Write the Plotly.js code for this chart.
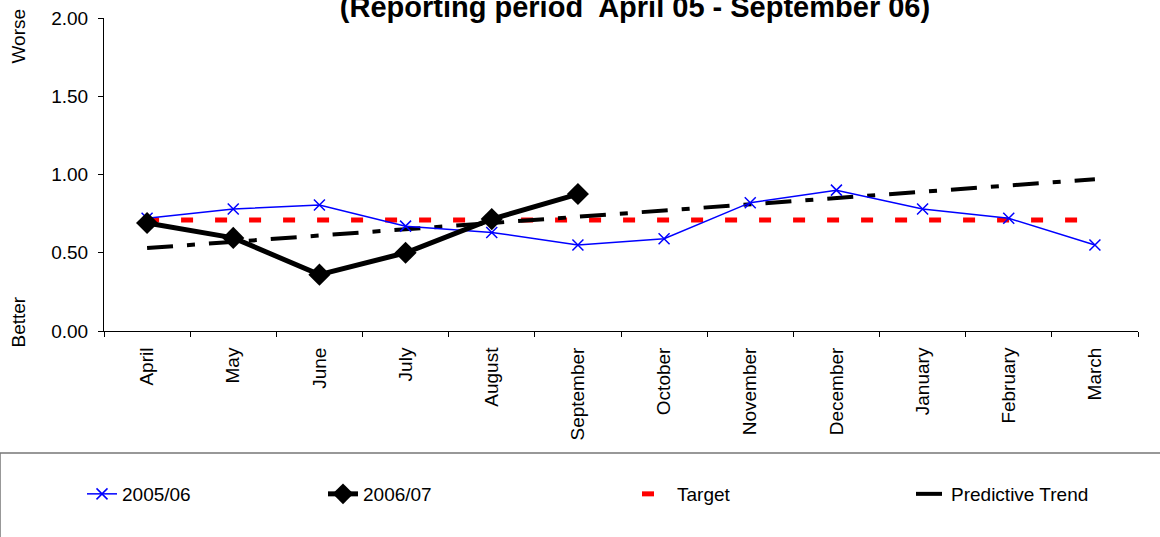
<!DOCTYPE html>
<html><head><meta charset="utf-8">
<script src="https://cdn.plot.ly/plotly-3.0.1.min.js"></script>
<style>body{margin:0;background:#fff}#chart{width:1160px;height:537px}</style>
</head><body><div id="chart"></div>
<script>
const months = ["April","May","June","July","August","September","October","November","December","January","February","March"];
const series0506 = [0.72,0.78,0.805,0.67,0.63,0.55,0.59,0.82,0.90,0.78,0.72,0.55];
const series0607 = [0.69,0.595,0.36,0.50,0.715,0.875];
const target = [0.71,0.71,0.71,0.71,0.71,0.71,0.71,0.71,0.71,0.71,0.71,0.71];
const trend = [0.53,0.57,0.61,0.65,0.69,0.73,0.77,0.81,0.85,0.89,0.93,0.97];
const yTicks = [0,0.5,1,1.5,2];

const F = "Liberation Sans, Arial, sans-serif";
const traces = [
  {x: months, y: target, name: "Target", type: "scatter", mode: "lines", legend: "legend3",
   line: {color: "#FF0000", width: 5, dash: "12px,22px"}},
  {x: months, y: trend, name: "Predictive Trend", type: "scatter", mode: "lines", legend: "legend4",
   line: {color: "#000000", width: 4, dash: "26px,14px,8px,14px"}},
  {x: months, y: series0506, name: "2005/06", type: "scatter", mode: "lines+markers", legend: "legend",
   line: {color: "#0000FF", width: 1.5},
   marker: {symbol: "x-thin-open", size: 11, color: "#0000FF", line: {color: "#0000FF", width: 1.5}}},
  {x: months.slice(0, series0607.length), y: series0607, name: "2006/07", type: "scatter", mode: "lines+markers", legend: "legend2",
   line: {color: "#000000", width: 5},
   marker: {symbol: "diamond", size: 17, color: "#000000"}}
];

function leg(px) {
  return {orientation: "h", xref: "container", yref: "container", x: px/1160, y: 1 - 475/537,
          xanchor: "left", yanchor: "top", bgcolor: "rgba(0,0,0,0)", borderwidth: 0,
          font: {family: F, size: 19}};
}

const layout = {
  width: 1160, height: 537,
  margin: {l: 104, r: 22, t: 18, b: 206},
  paper_bgcolor: "#fff", plot_bgcolor: "#fff",
  font: {family: F, size: 19, color: "#000"},
  title: {text: "<b>(Reporting period  April 05 - September 06)</b>",
          font: {family: F, size: 29, color: "#000"},
          x: 635/1160, xanchor: "center", y: 1 - 7/537, yanchor: "middle", yref: "container"},
  xaxis: {type: "category", range: [-0.5, 11.5], tickangle: -90, showline: true, linecolor: "#000", linewidth: 1,
          ticks: "outside", tickson: "boundaries", ticklen: 5, tickcolor: "#000", ticklabelstandoff: 8,
          showgrid: false, zeroline: false, tickfont: {family: F, size: 19}},
  yaxis: {range: [0, 2], tickvals: yTicks, tickformat: ".2f", showline: true, linecolor: "#000",
          linewidth: 1, ticks: "outside", ticklen: 5, tickcolor: "#000", showgrid: false,
          ticklabelstandoff: 6, zeroline: false, tickfont: {family: F, size: 19}},
  showlegend: true,
  legend: leg(82), legend2: leg(323), legend3: leg(637), legend4: leg(911),
  shapes: [{type: "rect", xref: "paper", yref: "paper",
            x0: -104/1034, x1: 1.2, y0: -(453-331)/313, y1: -1,
            line: {color: "#777", width: 1.5}, fillcolor: "rgba(0,0,0,0)"}],
  annotations: [
    {text: "Worse", xref: "paper", yref: "paper", x: -86/1034, y: 1 + 11/313, textangle: -90,
     xanchor: "center", yanchor: "top", showarrow: false, font: {family: F, size: 19}},
    {text: "Better", xref: "paper", yref: "paper", x: -86/1034, y: -(350-331)/313, textangle: -90,
     xanchor: "center", yanchor: "bottom", showarrow: false, font: {family: F, size: 19}}
  ]
};
Plotly.newPlot("chart", traces, layout, {displayModeBar: false, staticPlot: true});
</script></body></html>
